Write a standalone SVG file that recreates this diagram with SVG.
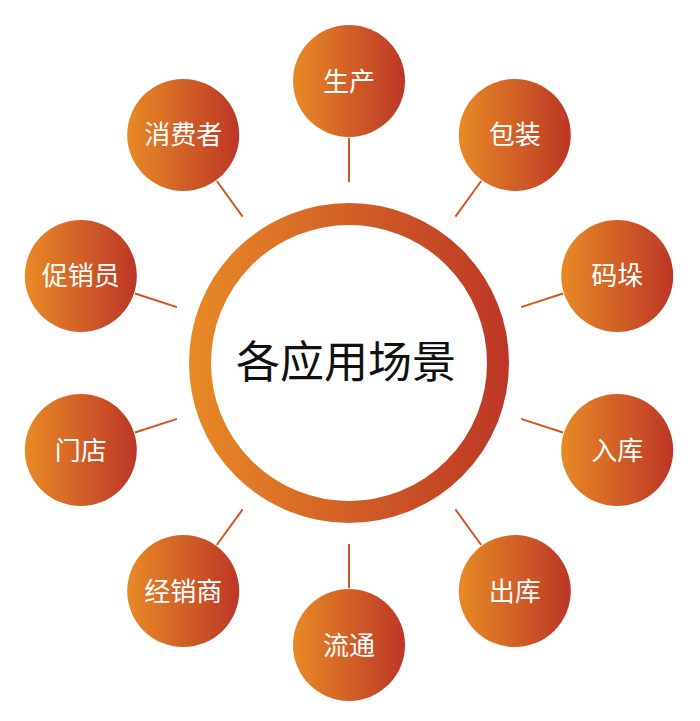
<svg xmlns="http://www.w3.org/2000/svg" width="700" height="721" viewBox="0 0 700 721">
<defs>
<linearGradient id="g" x1="0" y1="0" x2="1" y2="0">
<stop offset="0" stop-color="#e88a26"/>
<stop offset="1" stop-color="#bc3626"/>
</linearGradient>
<linearGradient id="gr" gradientUnits="userSpaceOnUse" x1="189" y1="0" x2="509" y2="0">
<stop offset="0" stop-color="#e88a26"/>
<stop offset="1" stop-color="#bc3626"/>
</linearGradient>
<style>
.n circle{fill:url(#g)}
.n text{fill:#fff;font-family:"Noto Sans CJK SC","Noto Sans",sans-serif;font-size:26px;text-anchor:middle}
.c line{stroke:#d2561f;stroke-width:2}
</style>
</defs>
<rect width="700" height="721" fill="#fff"/>
<g id="connectors" class="c">
<line x1="349" y1="182" x2="349" y2="138"/>
<line x1="455.4" y1="216.6" x2="481.2" y2="181.0"/>
<line x1="521.1" y1="307.1" x2="563.0" y2="293.5"/>
<line x1="521.1" y1="418.9" x2="563.0" y2="432.5"/>
<line x1="455.4" y1="509.4" x2="481.2" y2="545.0"/>
<line x1="349" y1="544" x2="349" y2="588"/>
<line x1="242.6" y1="509.4" x2="216.8" y2="545.0"/>
<line x1="176.9" y1="418.9" x2="135.0" y2="432.5"/>
<line x1="176.9" y1="307.1" x2="135.0" y2="293.5"/>
<line x1="242.6" y1="216.6" x2="216.8" y2="181.0"/>
</g>
<g id="center">
<circle cx="349" cy="363" r="149" fill="#fff" stroke="url(#gr)" stroke-width="22"/>
<text x="346" y="378" font-family="'Noto Sans CJK SC','Noto Sans',sans-serif" font-size="44" text-anchor="middle" fill="#111">各应用场景</text>
</g>
<g id="n1" class="n"><circle cx="349" cy="81" r="56"/><text x="349" y="90.5">生产</text></g>
<g id="n2" class="n"><circle cx="514.8" cy="134.9" r="56"/><text x="514.8" y="144.4">包装</text></g>
<g id="n3" class="n"><circle cx="617.2" cy="275.9" r="56"/><text x="617.2" y="285.4">码垛</text></g>
<g id="n4" class="n"><circle cx="617.2" cy="450.1" r="56"/><text x="617.2" y="459.6">入库</text></g>
<g id="n5" class="n"><circle cx="514.8" cy="591.1" r="56"/><text x="514.8" y="600.6">出库</text></g>
<g id="n6" class="n"><circle cx="349" cy="645" r="56"/><text x="349" y="654.5">流通</text></g>
<g id="n7" class="n"><circle cx="183.2" cy="591.1" r="56"/><text x="183.2" y="600.6">经销商</text></g>
<g id="n8" class="n"><circle cx="80.8" cy="450.1" r="56"/><text x="80.8" y="459.6">门店</text></g>
<g id="n9" class="n"><circle cx="80.8" cy="275.9" r="56"/><text x="80.8" y="285.4">促销员</text></g>
<g id="n10" class="n"><circle cx="183.2" cy="134.9" r="56"/><text x="183.2" y="144.4">消费者</text></g>
</svg>
